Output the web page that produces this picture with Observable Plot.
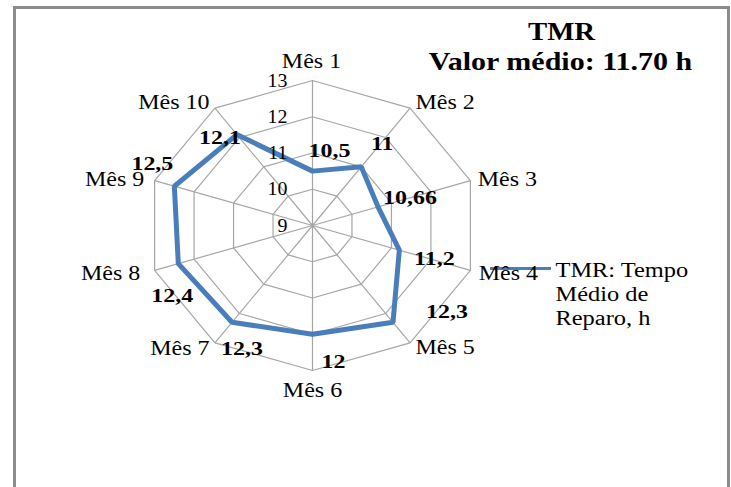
<!DOCTYPE html>
<html><head><meta charset="utf-8">
<script src="https://cdn.jsdelivr.net/npm/d3@7"></script>
<script src="https://cdn.jsdelivr.net/npm/@observablehq/plot@0.6"></script>
<style>
body{margin:0;background:#fff;}
#wrap{position:relative;width:731px;height:487px;overflow:hidden;background:#fff;}
#wrap svg{position:absolute;left:0;top:0;}
#wrap svg text{font-family:"Liberation Serif","Times New Roman",serif;}
#border{position:absolute;left:13px;top:6px;width:711px;height:520px;border:3px solid #8c8c8c;border-bottom:none;pointer-events:none;}
</style></head><body>
<div id="wrap"><div id="border"></div></div>
<script>
// ---- data ----
const months = ["Mês 1","Mês 2","Mês 3","Mês 4","Mês 5","Mês 6","Mês 7","Mês 8","Mês 9","Mês 10"];
const values = [10.5, 11, 10.66, 11.2, 12.3, 12, 12.3, 12.4, 12.5, 12.1];
const valueLabels = ["10,5","11","10,66","11,2","12,3","12","12,3","12,4","12,5","12,1"];
const ticks = [9, 10, 11, 12, 13];
const titleText = "TMR";
const subtitleText = "Valor médio: 11.70 h";
const legendLines = ["TMR: Tempo", "Médio de", "Reparo, h"];

// ---- layout (pixels) ----
const W = 731, H = 487;
const cx = 312, cy = 225, Rx = 166, Ry = 145;
const rMin = 9, rMax = 13;
const monthDx = [-1, 35, 37, 38, 35, 0, -35, -44, -40, -41];
const monthDy = [-19, -6, -1, 3, 5, 20, 6, 3, -1, -6];
const labelDx = [17, 21, 32, 35, 54, 21, 10, -6, -22, -17];
const labelDy = [-20, -23, -9, 9, -10, 28, 27, 33, -22, 4];
const blue = "#4a7ebb", grid = "#a6a6a6";
const font = "Liberation Serif";

const pxX = px => (px - cx) / Rx;   // pixel -> data
const pxY = py => -(py - cy) / Ry;
const n = months.length;
const ang = i => i * 2 * Math.PI / n;
const rad = v => (v - rMin) / (rMax - rMin);

const spokes = months.map((m, i) => ({x1: 0, y1: 0, x2: Math.sin(ang(i)), y2: Math.cos(ang(i))}));
const rings = ticks.slice(1).flatMap(t => months.map((m, i) => ({t, x: rad(t) * Math.sin(ang(i)), y: rad(t) * Math.cos(ang(i))})));
const pts = values.map((v, i) => ({v, x: rad(v) * Math.sin(ang(i)), y: rad(v) * Math.cos(ang(i))}));
const dataLabels = pts.map((p, i) => ({text: valueLabels[i], x: p.x + labelDx[i] / Rx, y: p.y - labelDy[i] / Ry}));
const monthLabels = months.map((m, i) => ({text: m, x: Math.sin(ang(i)) + monthDx[i] / Rx, y: Math.cos(ang(i)) - monthDy[i] / Ry}));
const tickLabels = ticks.map(t => ({text: String(t), x: pxX(287), y: rad(t)}));

const textMarks = [];
const factors = [];
function T(data, opts, f) { textMarks.push(Plot.text(data, {fontFamily: font, fill: "#000", ...opts})); factors.push(f); }

T(tickLabels, {x: "x", y: "y", text: "text", textAnchor: "end", fontSize: 19}, 1.05);
T(monthLabels, {x: "x", y: "y", text: "text", textAnchor: "middle", fontSize: 20}, 1.2);
T(dataLabels, {x: "x", y: "y", text: "text", textAnchor: "middle", fontSize: 18, fontWeight: "bold"}, 1.33);
T([titleText], {x: pxX(561), y: pxY(31), text: d => d, textAnchor: "middle", fontSize: 25, fontWeight: "bold"}, 1.15);
T([subtitleText], {x: pxX(560), y: pxY(61), text: d => d, textAnchor: "middle", fontSize: 25, fontWeight: "bold"}, 1.2);
T(legendLines.map((l, i) => ({text: l, x: pxX(555), y: pxY(270 + i * 24)})), {x: "x", y: "y", text: "text", textAnchor: "start", fontSize: 20}, 1.22);

const plot = Plot.plot({
  width: W, height: H,
  marginTop: 0, marginRight: 0, marginBottom: 0, marginLeft: 0,
  x: {domain: [-1, 1], range: [cx - Rx, cx + Rx], axis: null},
  y: {domain: [-1, 1], range: [cy + Ry, cy - Ry], axis: null},
  style: {fontFamily: font, background: "transparent", overflow: "visible"},
  marks: [
    Plot.link(spokes, {x1: "x1", y1: "y1", x2: "x2", y2: "y2", stroke: grid, strokeWidth: 1.2}),
    Plot.line(rings, {x: "x", y: "y", z: "t", curve: "linear-closed", stroke: grid, strokeWidth: 1.2}),
    Plot.line(pts, {x: "x", y: "y", curve: "linear-closed", stroke: blue, strokeWidth: 5, strokeLinejoin: "miter"}),
    Plot.ruleY([pxY(268)], {x1: pxX(490), x2: pxX(551), stroke: blue, strokeWidth: 3}),
    ...textMarks
  ]
});
const wrap = document.getElementById("wrap");
wrap.insertBefore(plot, wrap.firstChild);

const groups = plot.querySelectorAll('g[aria-label="text"]');
groups.forEach((g, gi) => {
  const f = factors[gi] || 1;
  g.querySelectorAll("text").forEach(t => {
    const L = t.getComputedTextLength();
    t.setAttribute("textLength", (L * f).toFixed(1));
    t.setAttribute("lengthAdjust", "spacingAndGlyphs");
  });
});
</script>
</body></html>
